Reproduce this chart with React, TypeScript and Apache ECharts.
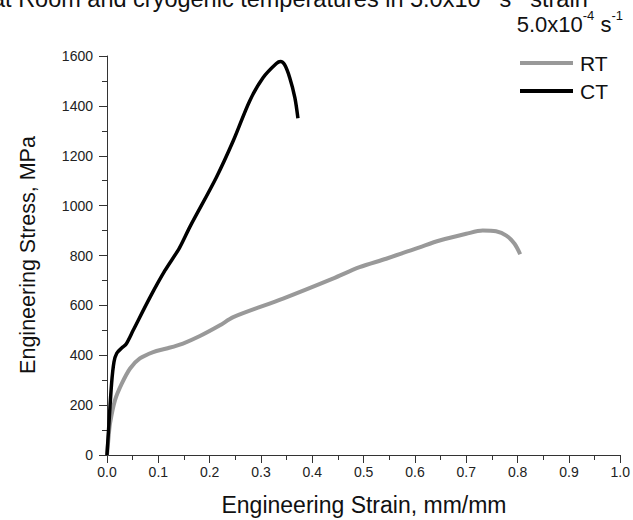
import React, { useEffect, useRef } from "react";
import * as echarts from "echarts";

const seriesNames = ["RT", "CT"];

const rtStrain = [0, 0.003, 0.006, 0.0156, 0.029, 0.045, 0.064, 0.09, 0.116, 0.148, 0.181, 0.22, 0.246, 0.343, 0.44, 0.492, 0.544, 0.609, 0.648, 0.7, 0.732, 0.758, 0.778, 0.794, 0.805];
const rtStress = [0, 70, 128, 220, 287, 347, 387, 413, 427, 447, 477, 520, 553, 627, 707, 753, 787, 833, 860, 887, 900, 897, 880, 847, 805];

const ctStrain = [0, 0.003, 0.009, 0.0136, 0.019, 0.0286, 0.037, 0.051, 0.084, 0.113, 0.141, 0.161, 0.213, 0.246, 0.278, 0.304, 0.33, 0.338, 0.346, 0.356, 0.366, 0.372];
const ctStress = [0, 100, 288, 373, 408, 429, 444, 500, 633, 740, 830, 913, 1113, 1260, 1420, 1513, 1570, 1578, 1565, 1513, 1433, 1350];

const xTicks = { min: 0, max: 1, interval: 0.1 };
const yTicks = { min: 0, max: 1600, interval: 200 };

const FONT = "'Liberation Sans', Arial, sans-serif";

export default function App() {
  const ref = useRef<HTMLDivElement>(null);
  useEffect(() => {
    const chart = echarts.init(ref.current!, undefined, { renderer: "svg" });
    const zip = (xs: number[], ys: number[]) => xs.map((x, i) => [x, ys[i]]);
    const axisCommon = {
      axisLine: { show: true, lineStyle: { color: "#333", width: 1 } },
      axisTick: { show: true, inside: false, length: 8, lineStyle: { color: "#333" } },
      minorTick: { show: true, splitNumber: 2, length: 5, lineStyle: { color: "#333" } },
      splitLine: { show: false },
      axisLabel: { color: "#222", fontSize: 14, fontFamily: FONT },
    };
    chart.setOption({
      animation: false,
      textStyle: { fontFamily: FONT },
      grid: { left: 107, right: 12, top: 56, bottom: 65, containLabel: false },
      xAxis: {
        type: "value",
        ...xTicks,
        ...axisCommon,
        axisLabel: { ...axisCommon.axisLabel, margin: 10, formatter: (v: number) => v.toFixed(1), showMaxLabel: true },
      },
      yAxis: {
        type: "value",
        ...yTicks,
        ...axisCommon,
        axisLabel: { ...axisCommon.axisLabel, margin: 14, formatter: (v: number) => String(v) },
      },
      legend: {
        orient: "vertical",
        left: 515,
        top: 44,
        icon: "rect",
        itemWidth: 53,
        itemHeight: 4,
        itemGap: 0,
        textStyle: { fontSize: 21, color: "#111", fontFamily: FONT, lineHeight: 28, padding: [0, 0, 0, 2] },
        data: seriesNames,
      },
      series: [
        {
          name: seriesNames[0],
          type: "line",
          data: zip(rtStrain, rtStress),
          smooth: 0.3,
          showSymbol: false,
          lineStyle: { color: "#999", width: 4 },
          itemStyle: { color: "#999" },
        },
        {
          name: seriesNames[1],
          type: "line",
          data: zip(ctStrain, ctStress),
          smooth: 0.3,
          showSymbol: false,
          lineStyle: { color: "#000", width: 3.5 },
          itemStyle: { color: "#000" },
        },
      ],
      graphic: [
        {
          type: "text",
          left: -8,
          top: -15,
          style: {
            text: "{n|at Room and cryogenic temperatures in 5.0x10}{s|-4}{n| s}{s|-1}{n| strain}",
            rich: {
              n: { fontSize: 23.5, fontFamily: FONT, fill: "#111", verticalAlign: "bottom", lineHeight: 26 },
              s: { fontSize: 14, fontFamily: FONT, fill: "#111", verticalAlign: "top", lineHeight: 26 },
            },
          },
        },
        {
          type: "text",
          right: 10,
          top: 9,
          style: {
            text: "{n|5.0x10}{s|-4}{n| s}{s|-1}",
            rich: {
              n: { fontSize: 22, fontFamily: FONT, fill: "#111", verticalAlign: "bottom", lineHeight: 26 },
              s: { fontSize: 13, fontFamily: FONT, fill: "#111", verticalAlign: "top", lineHeight: 26 },
            },
          },
        },
        {
          type: "text",
          x: 28,
          y: 255,
          rotation: Math.PI / 2,
          style: {
            text: "Engineering Stress, MPa",
            fontSize: 21.5,
            fontFamily: FONT,
            fill: "#111",
            align: "center",
            verticalAlign: "middle",
          },
        },
        {
          type: "text",
          x: 364,
          y: 505,
          style: {
            text: "Engineering Strain, mm/mm",
            fontSize: 23,
            fontFamily: FONT,
            fill: "#111",
            align: "center",
            verticalAlign: "middle",
          },
        },
      ],
    });
    return () => chart.dispose();
  }, []);
  return <div ref={ref} style={{ width: 633, height: 520, position: "absolute", left: 0, top: 0, background: "#fff" }} />;
}
